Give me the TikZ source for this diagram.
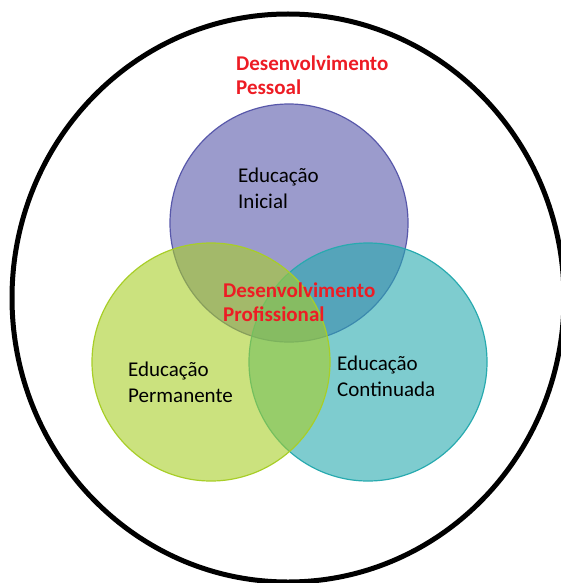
\documentclass[tikz,border=0pt]{standalone}
\usepackage{fontspec}
\setmainfont{Carlito}
\usetikzlibrary{positioning}
\definecolor{roxo}{RGB}{88,88,170}
\definecolor{verde}{RGB}{168,206,40}
\definecolor{azul}{RGB}{40,170,175}
\definecolor{vermelho}{RGB}{237,28,36}
\tikzset{
  circulo/.style={circle, minimum size=238pt, inner sep=0pt, line width=1.2pt, fill opacity=0.6},
  rotulo/.style={align=left, inner sep=0pt, anchor=base west, font=\fontsize{21}{25.5}\selectfont},
  destaque/.style={rotulo, text=vermelho, font=\fontsize{21}{24}\selectfont\bfseries},
  moldura/.style={line width=5pt, draw=black}
}

\begin{document}
\begin{tikzpicture}[x=1pt, y=-1pt]
  \useasboundingbox (0,0) rectangle (561,583);
  \clip (0,0) rectangle (561,583);
  % circulos
  \node[circulo, draw=roxo, fill=roxo] (inicial) at (289,223) {};
  \node[circulo, draw=azul, fill=azul] (continuada) at (368,362) {};
  \node[circulo, draw=verde, fill=verde] (permanente) at (211,362) {};
  \draw[moldura] (288,298) ellipse [x radius=276, y radius=284];
  % textos (base = ultima linha)
  \node[destaque] (pessoal) at (236,95) {Desenvolvimento\\Pessoal};
  \node[rotulo] (txtinicial) at (238,208) {Educação\\Inicial};
  \node[destaque] (profissional) at (223,321) {Desenvolvimento\\Profissional};
  \node[rotulo] (txtpermanente) at (128,402) {Educação\\Permanente};
  \node[rotulo] (txtcontinuada) at (337,396) {Educação\\Continuada};
\end{tikzpicture}
\end{document}
